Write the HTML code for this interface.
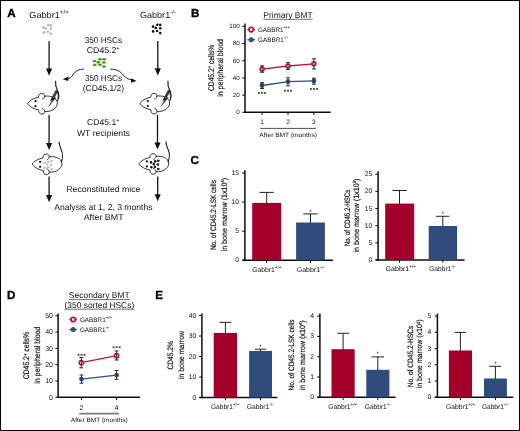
<!DOCTYPE html><html><head><meta charset="utf-8"><style>html,body{margin:0;padding:0;background:#fff;width:520px;height:431px;overflow:hidden;position:relative}text{font-family:"Liberation Sans", sans-serif;text-rendering:geometricPrecision}</style></head><body><svg width="520" height="431" viewBox="0 0 520 431" style="position:absolute;left:0;top:0;will-change:transform">
<g font-family='"Liberation Sans", sans-serif'>
<rect x="0" y="0" width="520" height="431" fill="#fff"/>
<text x="7.2" y="17.4" font-size="11.6" text-anchor="start" font-weight="bold" fill="#000" stroke="#000" stroke-width="0.35">A</text>
<text x="29.3" y="17.5" font-size="8.8" text-anchor="start" font-weight="normal" fill="#111" textLength="39.5" lengthAdjust="spacingAndGlyphs">Gabbr1<tspan font-size="6.00" dy="-3.60">+/+</tspan></text>
<text x="140.0" y="17.5" font-size="8.8" text-anchor="start" font-weight="normal" fill="#111" textLength="36.0" lengthAdjust="spacingAndGlyphs">Gabbr1<tspan font-size="6.00" dy="-3.60">-/-</tspan></text>
<circle cx="43.3" cy="27.3" r="1.3" fill="#b4b4b4" stroke="none" stroke-width="0"/>
<circle cx="48.1" cy="25.2" r="1.3" fill="#b4b4b4" stroke="none" stroke-width="0"/>
<circle cx="50.8" cy="25.4" r="1.3" fill="#b4b4b4" stroke="none" stroke-width="0"/>
<circle cx="45.7" cy="28.6" r="1.3" fill="#b4b4b4" stroke="none" stroke-width="0"/>
<circle cx="50.8" cy="28.6" r="1.3" fill="#b4b4b4" stroke="none" stroke-width="0"/>
<circle cx="43.9" cy="32.4" r="1.3" fill="#b4b4b4" stroke="none" stroke-width="0"/>
<circle cx="47.8" cy="31.7" r="1.3" fill="#b4b4b4" stroke="none" stroke-width="0"/>
<circle cx="50.8" cy="33.7" r="1.3" fill="#b4b4b4" stroke="none" stroke-width="0"/>
<circle cx="153" cy="26.6" r="1.3" fill="#111" stroke="none" stroke-width="0"/>
<circle cx="157.3" cy="24.7" r="1.3" fill="#111" stroke="none" stroke-width="0"/>
<circle cx="160.2" cy="24.9" r="1.3" fill="#111" stroke="none" stroke-width="0"/>
<circle cx="155.7" cy="27.9" r="1.3" fill="#111" stroke="none" stroke-width="0"/>
<circle cx="160.2" cy="28.3" r="1.3" fill="#111" stroke="none" stroke-width="0"/>
<circle cx="153.1" cy="31.4" r="1.3" fill="#111" stroke="none" stroke-width="0"/>
<circle cx="157.1" cy="31" r="1.3" fill="#111" stroke="none" stroke-width="0"/>
<circle cx="160.2" cy="33.1" r="1.3" fill="#111" stroke="none" stroke-width="0"/>
<line x1="49.1" y1="41" x2="49.1" y2="69.6" stroke="#0d0d0d" stroke-width="1.25"/>
<path d="M46.0,68.6 L52.2,68.6 L49.1,75.8 Z" fill="#111"/>
<line x1="157.8" y1="41" x2="157.8" y2="69.2" stroke="#0d0d0d" stroke-width="1.25"/>
<path d="M154.70000000000002,68.2 L160.9,68.2 L157.8,75.4 Z" fill="#111"/>
<g transform="translate(27.8,103.6)">
<path d="M1.0,-1.5 C2.8,-3.6 6.4,-5.5 10.7,-6.3 C10.5,-8.8 12,-10.1 13.8,-10.1 C15.8,-10.1 17.3,-8.8 16.8,-7.4 C22,-8.2 27.5,-6.2 29.2,-2.6 C30.2,0 29.2,3.2 26.5,5.2 C23.5,7.6 20,8.3 16.8,7.8 C17.3,9.5 15.8,10.6 13.8,10.4 C12,10.3 10.5,8.8 10.9,6.3 C6.6,5.6 2.8,3.6 1.0,1.5 C-0.4,0.6 -0.4,-0.6 1.0,-1.5 Z" fill="#fff" stroke="#111" stroke-width="0.85" stroke-linejoin="round"/>
<path d="M16.8,-7.6 C16.6,-5.6 15.6,-4.7 14.3,-4.4 M16.8,7.9 C16.6,5.9 15.6,4.9 14.0,4.6" fill="none" stroke="#111" stroke-width="0.8"/>
<circle cx="7.7" cy="-2.4" r="1.1" fill="#111" stroke="none" stroke-width="0"/>
<circle cx="7.7" cy="2.6" r="1.1" fill="#111" stroke="none" stroke-width="0"/>
<path d="M29.6,-2.5 C31.4,-6 31.2,-10 29.7,-13 C28.2,-16 27.4,-19 27.8,-22.8" fill="none" stroke="#111" stroke-width="1.1"/>
<path d="M30.2,-4.5 C30.6,-8 30.0,-11 28.6,-14" fill="none" stroke="#111" stroke-width="0.6"/>
<path d="M27.9,-13.2 L30.0,-12.0 L26.3,-5.4 L28.2,-6.0 L20.8,3.2 L24.2,-3.6 L22.5,-3.0 Z" fill="#1a1a1a" stroke="#1a1a1a" stroke-width="0.3" stroke-linejoin="round"/>
<path d="M28.5,-11.8 L25.2,-5.2 M25.5,-3.9 L22.6,0.8" fill="none" stroke="#fff" stroke-width="0.35" opacity="0.8"/>
</g>
<g transform="translate(140.1,103.5)">
<path d="M1.0,-1.5 C2.8,-3.6 6.4,-5.5 10.7,-6.3 C10.5,-8.8 12,-10.1 13.8,-10.1 C15.8,-10.1 17.3,-8.8 16.8,-7.4 C22,-8.2 27.5,-6.2 29.2,-2.6 C30.2,0 29.2,3.2 26.5,5.2 C23.5,7.6 20,8.3 16.8,7.8 C17.3,9.5 15.8,10.6 13.8,10.4 C12,10.3 10.5,8.8 10.9,6.3 C6.6,5.6 2.8,3.6 1.0,1.5 C-0.4,0.6 -0.4,-0.6 1.0,-1.5 Z" fill="#fff" stroke="#111" stroke-width="0.85" stroke-linejoin="round"/>
<path d="M16.8,-7.6 C16.6,-5.6 15.6,-4.7 14.3,-4.4 M16.8,7.9 C16.6,5.9 15.6,4.9 14.0,4.6" fill="none" stroke="#111" stroke-width="0.8"/>
<circle cx="7.7" cy="-2.4" r="1.1" fill="#111" stroke="none" stroke-width="0"/>
<circle cx="7.7" cy="2.6" r="1.1" fill="#111" stroke="none" stroke-width="0"/>
<path d="M29.6,-2.5 C31.4,-6 31.2,-10 29.7,-13 C28.2,-16 27.4,-19 27.8,-22.8" fill="none" stroke="#111" stroke-width="1.1"/>
<path d="M30.2,-4.5 C30.6,-8 30.0,-11 28.6,-14" fill="none" stroke="#111" stroke-width="0.6"/>
<path d="M27.9,-13.2 L30.0,-12.0 L26.3,-5.4 L28.2,-6.0 L20.8,3.2 L24.2,-3.6 L22.5,-3.0 Z" fill="#1a1a1a" stroke="#1a1a1a" stroke-width="0.3" stroke-linejoin="round"/>
<path d="M28.5,-11.8 L25.2,-5.2 M25.5,-3.9 L22.6,0.8" fill="none" stroke="#fff" stroke-width="0.35" opacity="0.8"/>
</g>
<line x1="49.1" y1="115" x2="49.1" y2="143.9" stroke="#0d0d0d" stroke-width="1.25"/>
<path d="M46.0,142.9 L52.2,142.9 L49.1,149.9 Z" fill="#111"/>
<line x1="157.5" y1="115" x2="157.5" y2="143.6" stroke="#0d0d0d" stroke-width="1.25"/>
<path d="M154.4,142.6 L160.6,142.6 L157.5,149.6 Z" fill="#111"/>
<g transform="translate(32.4,164.2)">
<path d="M1.0,-1.5 C2.8,-3.6 6.4,-5.5 10.7,-6.3 C10.5,-8.8 12,-10.1 13.8,-10.1 C15.8,-10.1 17.3,-8.8 16.8,-7.4 C22,-8.2 27.5,-6.2 29.2,-2.6 C30.2,0 29.2,3.2 26.5,5.2 C23.5,7.6 20,8.3 16.8,7.8 C17.3,9.5 15.8,10.6 13.8,10.4 C12,10.3 10.5,8.8 10.9,6.3 C6.6,5.6 2.8,3.6 1.0,1.5 C-0.4,0.6 -0.4,-0.6 1.0,-1.5 Z" fill="#fff" stroke="#111" stroke-width="0.85" stroke-linejoin="round"/>
<path d="M16.8,-7.6 C16.6,-5.6 15.6,-4.7 14.3,-4.4 M16.8,7.9 C16.6,5.9 15.6,4.9 14.0,4.6" fill="none" stroke="#111" stroke-width="0.8"/>
<circle cx="7.7" cy="-2.4" r="1.1" fill="#111" stroke="none" stroke-width="0"/>
<circle cx="7.7" cy="2.6" r="1.1" fill="#111" stroke="none" stroke-width="0"/>
<path d="M28.6,-1.6 C30.8,-5.8 30.4,-11.5 28.6,-15 C27.6,-17.5 26.8,-20 26.7,-22.4" fill="none" stroke="#111" stroke-width="1.1"/>
<circle cx="11.8" cy="-1.4" r="1.3" fill="#c2c2c2" stroke="none" stroke-width="0"/>
<circle cx="16" cy="-2.4" r="1.3" fill="#c2c2c2" stroke="none" stroke-width="0"/>
<circle cx="19.1" cy="-3.1" r="1.3" fill="#c2c2c2" stroke="none" stroke-width="0"/>
<circle cx="14.6" cy="0.3" r="1.3" fill="#c2c2c2" stroke="none" stroke-width="0"/>
<circle cx="18.7" cy="0.7" r="1.3" fill="#c2c2c2" stroke="none" stroke-width="0"/>
<circle cx="12.1" cy="3.5" r="1.3" fill="#c2c2c2" stroke="none" stroke-width="0"/>
<circle cx="15.7" cy="3.1" r="1.3" fill="#c2c2c2" stroke="none" stroke-width="0"/>
<circle cx="19.1" cy="5.2" r="1.3" fill="#c2c2c2" stroke="none" stroke-width="0"/>
</g>
<g transform="translate(139.2,163.8)">
<path d="M1.0,-1.5 C2.8,-3.6 6.4,-5.5 10.7,-6.3 C10.5,-8.8 12,-10.1 13.8,-10.1 C15.8,-10.1 17.3,-8.8 16.8,-7.4 C22,-8.2 27.5,-6.2 29.2,-2.6 C30.2,0 29.2,3.2 26.5,5.2 C23.5,7.6 20,8.3 16.8,7.8 C17.3,9.5 15.8,10.6 13.8,10.4 C12,10.3 10.5,8.8 10.9,6.3 C6.6,5.6 2.8,3.6 1.0,1.5 C-0.4,0.6 -0.4,-0.6 1.0,-1.5 Z" fill="#fff" stroke="#111" stroke-width="0.85" stroke-linejoin="round"/>
<path d="M16.8,-7.6 C16.6,-5.6 15.6,-4.7 14.3,-4.4 M16.8,7.9 C16.6,5.9 15.6,4.9 14.0,4.6" fill="none" stroke="#111" stroke-width="0.8"/>
<circle cx="7.7" cy="-2.4" r="1.1" fill="#111" stroke="none" stroke-width="0"/>
<circle cx="7.7" cy="2.6" r="1.1" fill="#111" stroke="none" stroke-width="0"/>
<path d="M28.6,-1.6 C30.8,-5.8 30.4,-11.5 28.6,-15 C27.6,-17.5 26.8,-20 26.7,-22.4" fill="none" stroke="#111" stroke-width="1.1"/>
<circle cx="11.8" cy="-1.4" r="1.3" fill="#111" stroke="none" stroke-width="0"/>
<circle cx="16" cy="-2.4" r="1.3" fill="#111" stroke="none" stroke-width="0"/>
<circle cx="19.1" cy="-3.1" r="1.3" fill="#111" stroke="none" stroke-width="0"/>
<circle cx="14.6" cy="0.3" r="1.3" fill="#111" stroke="none" stroke-width="0"/>
<circle cx="18.7" cy="0.7" r="1.3" fill="#111" stroke="none" stroke-width="0"/>
<circle cx="12.1" cy="3.5" r="1.3" fill="#111" stroke="none" stroke-width="0"/>
<circle cx="15.7" cy="3.1" r="1.3" fill="#111" stroke="none" stroke-width="0"/>
<circle cx="19.1" cy="5.2" r="1.3" fill="#111" stroke="none" stroke-width="0"/>
</g>
<line x1="49.1" y1="176.5" x2="49.1" y2="196" stroke="#0d0d0d" stroke-width="1.25"/>
<path d="M46.0,195 L52.2,195 L49.1,202.2 Z" fill="#111"/>
<line x1="157.7" y1="176.5" x2="157.7" y2="195.3" stroke="#0d0d0d" stroke-width="1.25"/>
<path d="M154.6,194.3 L160.79999999999998,194.3 L157.7,201.3 Z" fill="#111"/>
<text x="103.4" y="42.5" font-size="8.5" text-anchor="middle" font-weight="normal" fill="#111" textLength="37.4" lengthAdjust="spacingAndGlyphs">350 HSCs</text>
<text x="103.2" y="53.0" font-size="8.5" text-anchor="middle" font-weight="normal" fill="#111" textLength="32.8" lengthAdjust="spacingAndGlyphs">CD45.2<tspan font-size="5.40" dy="-3.40">+</tspan></text>
<ellipse cx="94.5" cy="60.9" rx="1.9" ry="1.25" fill="#4a9a1c"/>
<ellipse cx="99.9" cy="59.2" rx="1.9" ry="1.25" fill="#4a9a1c"/>
<ellipse cx="104.2" cy="59.2" rx="1.9" ry="1.25" fill="#4a9a1c"/>
<ellipse cx="98.2" cy="62.2" rx="1.9" ry="1.25" fill="#4a9a1c"/>
<ellipse cx="103.9" cy="62.5" rx="1.9" ry="1.25" fill="#4a9a1c"/>
<ellipse cx="94.8" cy="65.1" rx="1.9" ry="1.25" fill="#4a9a1c"/>
<ellipse cx="99.9" cy="64.7" rx="1.9" ry="1.25" fill="#4a9a1c"/>
<ellipse cx="103.9" cy="66.5" rx="1.9" ry="1.25" fill="#4a9a1c"/>
<text x="103.5" y="80.8" font-size="8.5" text-anchor="middle" font-weight="normal" fill="#111" textLength="37.0" lengthAdjust="spacingAndGlyphs">350 HSCs</text>
<text x="103.4" y="91.4" font-size="8.5" text-anchor="middle" font-weight="normal" fill="#111" textLength="41.2" lengthAdjust="spacingAndGlyphs">(CD45.1/2)</text>
<text x="103.2" y="125.4" font-size="8.5" text-anchor="middle" font-weight="normal" fill="#111" textLength="32.4" lengthAdjust="spacingAndGlyphs">CD45.1<tspan font-size="5.40" dy="-3.40">+</tspan></text>
<text x="103.45" y="135.7" font-size="8.5" text-anchor="middle" font-weight="normal" fill="#111" textLength="53.1" lengthAdjust="spacingAndGlyphs">WT recipients</text>
<text x="103.35" y="191.9" font-size="8.5" text-anchor="middle" font-weight="normal" fill="#111" textLength="74.1" lengthAdjust="spacingAndGlyphs">Reconstituted mice</text>
<text x="103.35" y="209.9" font-size="8.5" text-anchor="middle" font-weight="normal" fill="#111" textLength="98.3" lengthAdjust="spacingAndGlyphs">Analysis at 1, 2, 3 months</text>
<text x="103.65" y="220.1" font-size="8.5" text-anchor="middle" font-weight="normal" fill="#111" textLength="39.9" lengthAdjust="spacingAndGlyphs">After BMT</text>
<path d="M83.8,69.1 C79,69.2 75.5,70.5 73.6,74 C72,77 69.5,78.8 66.5,79.2" fill="none" stroke="#111" stroke-width="0.9"/>
<path d="M62.8,79.3 L68.6,76.4 L68.1,80.9 Z" fill="#111"/>
<path d="M110.2,69.1 C115,69.2 119.5,70.3 122.2,73.8 C124.5,77.2 127.5,79.3 132.5,80.2" fill="none" stroke="#111" stroke-width="0.9"/>
<path d="M136.6,80.9 L131.2,78.3 L131.0,82.8 Z" fill="#111"/>
<text x="191.0" y="17.2" font-size="11.6" text-anchor="start" font-weight="bold" fill="#000" stroke="#000" stroke-width="0.35">B</text>
<text x="288.0" y="17.7" font-size="8.5" text-anchor="middle" font-weight="normal" fill="#111" textLength="49.4" lengthAdjust="spacingAndGlyphs">Primary BMT</text>
<line x1="263.3" y1="19.3" x2="312.7" y2="19.3" stroke="#333" stroke-width="0.7"/>
<line x1="245.0" y1="23.4" x2="245.0" y2="113.0" stroke="#0d0d0d" stroke-width="1.5"/>
<line x1="242.2" y1="112.3" x2="245.0" y2="112.3" stroke="#0d0d0d" stroke-width="1.0"/>
<text x="239.6" y="114.1" font-size="6.2" text-anchor="end" font-weight="normal" fill="#111">0</text>
<line x1="242.2" y1="95.12" x2="245.0" y2="95.12" stroke="#0d0d0d" stroke-width="1.0"/>
<text x="239.6" y="96.92" font-size="6.2" text-anchor="end" font-weight="normal" fill="#111">20</text>
<line x1="242.2" y1="77.94" x2="245.0" y2="77.94" stroke="#0d0d0d" stroke-width="1.0"/>
<text x="239.6" y="79.74" font-size="6.2" text-anchor="end" font-weight="normal" fill="#111">40</text>
<line x1="242.2" y1="60.76" x2="245.0" y2="60.76" stroke="#0d0d0d" stroke-width="1.0"/>
<text x="239.6" y="62.559999999999995" font-size="6.2" text-anchor="end" font-weight="normal" fill="#111">60</text>
<line x1="242.2" y1="43.58" x2="245.0" y2="43.58" stroke="#0d0d0d" stroke-width="1.0"/>
<text x="239.6" y="45.379999999999995" font-size="6.2" text-anchor="end" font-weight="normal" fill="#111">80</text>
<line x1="242.2" y1="26.39999999999999" x2="245.0" y2="26.39999999999999" stroke="#0d0d0d" stroke-width="1.0"/>
<text x="239.6" y="28.199999999999992" font-size="6.2" text-anchor="end" font-weight="normal" fill="#111">100</text>
<line x1="244.4" y1="112.3" x2="330.8" y2="112.3" stroke="#0d0d0d" stroke-width="1.5"/>
<line x1="262.1" y1="112.3" x2="262.1" y2="115.0" stroke="#0d0d0d" stroke-width="1.0"/>
<text x="262.1" y="123.8" font-size="6.5" text-anchor="middle" font-weight="normal" fill="#111">1</text>
<line x1="288.0" y1="112.3" x2="288.0" y2="115.0" stroke="#0d0d0d" stroke-width="1.0"/>
<text x="288.0" y="123.8" font-size="6.5" text-anchor="middle" font-weight="normal" fill="#111">2</text>
<line x1="313.9" y1="112.3" x2="313.9" y2="115.0" stroke="#0d0d0d" stroke-width="1.0"/>
<text x="313.9" y="123.8" font-size="6.5" text-anchor="middle" font-weight="normal" fill="#111">3</text>
<line x1="260.1" y1="128.4" x2="315.8" y2="128.4" stroke="#222" stroke-width="0.8"/>
<text x="288.2" y="137.0" font-size="6.2" text-anchor="middle" font-weight="normal" fill="#111" textLength="57.7" lengthAdjust="spacingAndGlyphs">After BMT (months)</text>
<text transform="translate(213.9,67.9) rotate(-90)" x="0" y="0" font-size="8.2" text-anchor="middle" fill="#111" stroke="#111" stroke-width="0.18" textLength="46.3" lengthAdjust="spacingAndGlyphs">CD45.2<tspan font-size="5.00" dy="-2.80">+</tspan><tspan dy="2.80"> cells%</tspan></text>
<text transform="translate(222.9,67.9) rotate(-90)" x="0" y="0" font-size="8.2" text-anchor="middle" fill="#111" stroke="#111" stroke-width="0.18" textLength="57.7" lengthAdjust="spacingAndGlyphs">in peripheral blood</text>
<polyline points="262.1,69.1 288,66 313.9,63.8" fill="none" stroke="#C4123E" stroke-width="1.3"/>
<polyline points="262.1,85.5 288,81.7 313.9,80.9" fill="none" stroke="#2E4E8C" stroke-width="1.3"/>
<circle cx="262.1" cy="69.1" r="2.0" fill="#fff" stroke="#C4123E" stroke-width="1.6"/>
<circle cx="288" cy="66" r="2.0" fill="#fff" stroke="#C4123E" stroke-width="1.6"/>
<circle cx="313.9" cy="63.8" r="2.0" fill="#fff" stroke="#C4123E" stroke-width="1.6"/>
<circle cx="262.1" cy="85.5" r="2.4" fill="#2E4E8C" stroke="none" stroke-width="0"/>
<circle cx="288" cy="81.7" r="2.4" fill="#2E4E8C" stroke="none" stroke-width="0"/>
<circle cx="313.9" cy="80.9" r="2.4" fill="#2E4E8C" stroke="none" stroke-width="0"/>
<line x1="262.1" y1="65.8" x2="262.1" y2="72.3" stroke="#2a2a2a" stroke-width="1.0"/>
<line x1="260.1" y1="65.8" x2="264.1" y2="65.8" stroke="#2a2a2a" stroke-width="1.0"/>
<line x1="260.1" y1="72.3" x2="264.1" y2="72.3" stroke="#2a2a2a" stroke-width="1.0"/>
<line x1="288" y1="62.6" x2="288" y2="69.4" stroke="#2a2a2a" stroke-width="1.0"/>
<line x1="286.0" y1="62.6" x2="290.0" y2="62.6" stroke="#2a2a2a" stroke-width="1.0"/>
<line x1="286.0" y1="69.4" x2="290.0" y2="69.4" stroke="#2a2a2a" stroke-width="1.0"/>
<line x1="313.9" y1="58.8" x2="313.9" y2="69" stroke="#2a2a2a" stroke-width="1.0"/>
<line x1="311.9" y1="58.8" x2="315.9" y2="58.8" stroke="#2a2a2a" stroke-width="1.0"/>
<line x1="311.9" y1="69" x2="315.9" y2="69" stroke="#2a2a2a" stroke-width="1.0"/>
<line x1="262.1" y1="82.6" x2="262.1" y2="88.5" stroke="#2a2a2a" stroke-width="1.0"/>
<line x1="260.1" y1="82.6" x2="264.1" y2="82.6" stroke="#2a2a2a" stroke-width="1.0"/>
<line x1="260.1" y1="88.5" x2="264.1" y2="88.5" stroke="#2a2a2a" stroke-width="1.0"/>
<line x1="288" y1="77.8" x2="288" y2="85.8" stroke="#2a2a2a" stroke-width="1.0"/>
<line x1="286.0" y1="77.8" x2="290.0" y2="77.8" stroke="#2a2a2a" stroke-width="1.0"/>
<line x1="286.0" y1="85.8" x2="290.0" y2="85.8" stroke="#2a2a2a" stroke-width="1.0"/>
<line x1="313.9" y1="78.2" x2="313.9" y2="84.2" stroke="#2a2a2a" stroke-width="1.0"/>
<line x1="311.9" y1="78.2" x2="315.9" y2="78.2" stroke="#2a2a2a" stroke-width="1.0"/>
<line x1="311.9" y1="84.2" x2="315.9" y2="84.2" stroke="#2a2a2a" stroke-width="1.0"/>
<rect x="258.00" y="92.00" width="1.9" height="1.9" fill="#505050"/>
<rect x="261.00" y="92.00" width="1.9" height="1.9" fill="#505050"/>
<rect x="264.00" y="92.00" width="1.9" height="1.9" fill="#505050"/>
<rect x="284.00" y="89.80" width="1.9" height="1.9" fill="#505050"/>
<rect x="287.00" y="89.80" width="1.9" height="1.9" fill="#505050"/>
<rect x="290.00" y="89.80" width="1.9" height="1.9" fill="#505050"/>
<rect x="310.00" y="88.00" width="1.9" height="1.9" fill="#505050"/>
<rect x="313.00" y="88.00" width="1.9" height="1.9" fill="#505050"/>
<rect x="316.00" y="88.00" width="1.9" height="1.9" fill="#505050"/>
<line x1="247.4" y1="29.6" x2="255.1" y2="29.6" stroke="#C4123E" stroke-width="1.2"/>
<circle cx="251.2" cy="29.6" r="2.2" fill="#fff" stroke="#C4123E" stroke-width="1.8"/>
<text x="258.0" y="31.8" font-size="6.6" text-anchor="start" font-weight="normal" fill="#111" textLength="31.7" lengthAdjust="spacingAndGlyphs">GABBR1<tspan font-size="4.60" dy="-3.00">+/+</tspan></text>
<line x1="247.4" y1="39.7" x2="255.1" y2="39.7" stroke="#2E4E8C" stroke-width="1.2"/>
<circle cx="251.2" cy="39.7" r="2.5" fill="#2E4E8C" stroke="none" stroke-width="0"/>
<text x="258.0" y="41.8" font-size="6.6" text-anchor="start" font-weight="normal" fill="#111" textLength="30.0" lengthAdjust="spacingAndGlyphs">GABBR1<tspan font-size="4.60" dy="-3.00">-/-</tspan></text>
<text x="190.6" y="163.6" font-size="11.6" text-anchor="start" font-weight="bold" fill="#000" stroke="#000" stroke-width="0.35">C</text>
<line x1="244.9" y1="170.3" x2="244.9" y2="261.0" stroke="#0d0d0d" stroke-width="1.5"/>
<line x1="242.1" y1="260.3" x2="244.9" y2="260.3" stroke="#0d0d0d" stroke-width="1.0"/>
<text x="239.0" y="262.3" font-size="6.8" text-anchor="end" font-weight="normal" fill="#111">0</text>
<line x1="242.1" y1="231.20000000000002" x2="244.9" y2="231.20000000000002" stroke="#0d0d0d" stroke-width="1.0"/>
<text x="239.0" y="233.20000000000002" font-size="6.8" text-anchor="end" font-weight="normal" fill="#111">5</text>
<line x1="242.1" y1="202.10000000000002" x2="244.9" y2="202.10000000000002" stroke="#0d0d0d" stroke-width="1.0"/>
<text x="239.0" y="204.10000000000002" font-size="6.8" text-anchor="end" font-weight="normal" fill="#111">10</text>
<line x1="242.1" y1="173.0" x2="244.9" y2="173.0" stroke="#0d0d0d" stroke-width="1.0"/>
<text x="239.0" y="175.0" font-size="6.8" text-anchor="end" font-weight="normal" fill="#111">15</text>
<line x1="242.3" y1="260.3" x2="332.9" y2="260.3" stroke="#0d0d0d" stroke-width="1.5"/>
<rect x="252.2" y="202.9" width="29.0" height="57.400000000000006" fill="#A3002A"/>
<line x1="266.7" y1="192.4" x2="266.7" y2="203.4" stroke="#222" stroke-width="1.0"/>
<line x1="259.5" y1="192.4" x2="273.7" y2="192.4" stroke="#222" stroke-width="1.0"/>
<line x1="266.7" y1="260.3" x2="266.7" y2="263.0" stroke="#0d0d0d" stroke-width="1.0"/>
<rect x="296.1" y="222.5" width="28.799999999999955" height="37.80000000000001" fill="#304C7D"/>
<line x1="310.5" y1="213.9" x2="310.5" y2="223.0" stroke="#222" stroke-width="1.0"/>
<line x1="303.2" y1="213.9" x2="317.7" y2="213.9" stroke="#222" stroke-width="1.0"/>
<line x1="310.5" y1="260.3" x2="310.5" y2="263.0" stroke="#0d0d0d" stroke-width="1.0"/>
<text x="310.5" y="213.60000000000002" font-size="6.5" text-anchor="middle" font-weight="normal" fill="#111">*</text>
<text x="252.2" y="271.7" font-size="6.8" text-anchor="start" font-weight="normal" fill="#111" textLength="29.2" lengthAdjust="spacingAndGlyphs">Gabbr1<tspan font-size="4.60" dy="-3.00">+/+</tspan></text>
<text x="296.7" y="271.7" font-size="6.8" text-anchor="start" font-weight="normal" fill="#111" textLength="27.8" lengthAdjust="spacingAndGlyphs">Gabbr1<tspan font-size="4.60" dy="-3.00">-/-</tspan></text>
<text transform="translate(216.4,215.0) rotate(-90)" x="0" y="0" font-size="7.9" text-anchor="middle" fill="#111" stroke="#111" stroke-width="0.18" textLength="70.0" lengthAdjust="spacingAndGlyphs">No. of CD45.2-LSK cells</text>
<text transform="translate(227.1,214.6) rotate(-90)" x="0" y="0" font-size="7.9" text-anchor="middle" fill="#111" stroke="#111" stroke-width="0.18" textLength="73.7" lengthAdjust="spacingAndGlyphs">in bone marrow (1x10<tspan font-size="4.60" dy="-2.80">4</tspan><tspan dy="2.80">)</tspan></text>
<line x1="378.1" y1="171.3" x2="378.1" y2="260.7" stroke="#0d0d0d" stroke-width="1.5"/>
<line x1="375.3" y1="260.0" x2="378.1" y2="260.0" stroke="#0d0d0d" stroke-width="1.0"/>
<text x="372.4" y="262.0" font-size="6.8" text-anchor="end" font-weight="normal" fill="#111">0</text>
<line x1="375.3" y1="242.85" x2="378.1" y2="242.85" stroke="#0d0d0d" stroke-width="1.0"/>
<text x="372.4" y="244.85" font-size="6.8" text-anchor="end" font-weight="normal" fill="#111">5</text>
<line x1="375.3" y1="225.7" x2="378.1" y2="225.7" stroke="#0d0d0d" stroke-width="1.0"/>
<text x="372.4" y="227.7" font-size="6.8" text-anchor="end" font-weight="normal" fill="#111">10</text>
<line x1="375.3" y1="208.55" x2="378.1" y2="208.55" stroke="#0d0d0d" stroke-width="1.0"/>
<text x="372.4" y="210.55" font-size="6.8" text-anchor="end" font-weight="normal" fill="#111">15</text>
<line x1="375.3" y1="191.39999999999998" x2="378.1" y2="191.39999999999998" stroke="#0d0d0d" stroke-width="1.0"/>
<text x="372.4" y="193.39999999999998" font-size="6.8" text-anchor="end" font-weight="normal" fill="#111">20</text>
<line x1="375.3" y1="174.25" x2="378.1" y2="174.25" stroke="#0d0d0d" stroke-width="1.0"/>
<text x="372.4" y="176.25" font-size="6.8" text-anchor="end" font-weight="normal" fill="#111">25</text>
<line x1="375.5" y1="260.0" x2="464.6" y2="260.0" stroke="#0d0d0d" stroke-width="1.5"/>
<rect x="385.2" y="203.6" width="29.0" height="56.400000000000006" fill="#A3002A"/>
<line x1="399.5" y1="190.5" x2="399.5" y2="204.1" stroke="#222" stroke-width="1.0"/>
<line x1="392.5" y1="190.5" x2="406.8" y2="190.5" stroke="#222" stroke-width="1.0"/>
<line x1="399.5" y1="260.0" x2="399.5" y2="262.7" stroke="#0d0d0d" stroke-width="1.0"/>
<rect x="428.7" y="226.0" width="28.400000000000034" height="34.0" fill="#304C7D"/>
<line x1="442.8" y1="216.3" x2="442.8" y2="226.5" stroke="#222" stroke-width="1.0"/>
<line x1="436.0" y1="216.3" x2="449.4" y2="216.3" stroke="#222" stroke-width="1.0"/>
<line x1="442.8" y1="260.0" x2="442.8" y2="262.7" stroke="#0d0d0d" stroke-width="1.0"/>
<text x="442.8" y="215.8" font-size="6.5" text-anchor="middle" font-weight="normal" fill="#111">*</text>
<text x="385.4" y="271.2" font-size="6.8" text-anchor="start" font-weight="normal" fill="#111" textLength="30.8" lengthAdjust="spacingAndGlyphs">Gabbr1<tspan font-size="4.60" dy="-3.00">+/+</tspan></text>
<text x="429.2" y="271.2" font-size="6.8" text-anchor="start" font-weight="normal" fill="#111" textLength="26.4" lengthAdjust="spacingAndGlyphs">Gabbr1<tspan font-size="4.60" dy="-3.00">-/-</tspan></text>
<text transform="translate(349.5,218.0) rotate(-90)" x="0" y="0" font-size="7.9" text-anchor="middle" fill="#111" stroke="#111" stroke-width="0.18" textLength="56.4" lengthAdjust="spacingAndGlyphs">No. of CD45.2-HSCs</text>
<text transform="translate(358.9,215.6) rotate(-90)" x="0" y="0" font-size="7.9" text-anchor="middle" fill="#111" stroke="#111" stroke-width="0.18" textLength="74.0" lengthAdjust="spacingAndGlyphs">in bone marrow (1x10<tspan font-size="4.60" dy="-2.80">3</tspan><tspan dy="2.80">)</tspan></text>
<text x="7.0" y="298.6" font-size="11.6" text-anchor="start" font-weight="bold" fill="#000" stroke="#000" stroke-width="0.35">D</text>
<text x="99.25" y="298.0" font-size="8.5" text-anchor="middle" font-weight="normal" fill="#111" textLength="60.9" lengthAdjust="spacingAndGlyphs">Secondary BMT</text>
<line x1="68.8" y1="299.6" x2="129.7" y2="299.6" stroke="#333" stroke-width="0.7"/>
<text x="99.35" y="307.5" font-size="8.5" text-anchor="middle" font-weight="normal" fill="#111" textLength="69.7" lengthAdjust="spacingAndGlyphs">(350 sorted HSCs)</text>
<line x1="64.5" y1="309.2" x2="134.2" y2="309.2" stroke="#333" stroke-width="0.7"/>
<line x1="58.1" y1="313.5" x2="58.1" y2="398.0" stroke="#0d0d0d" stroke-width="1.5"/>
<line x1="55.300000000000004" y1="397.3" x2="58.1" y2="397.3" stroke="#0d0d0d" stroke-width="1.0"/>
<text x="53.0" y="399.5" font-size="7.0" text-anchor="end" font-weight="normal" fill="#111">0</text>
<line x1="55.300000000000004" y1="381.0" x2="58.1" y2="381.0" stroke="#0d0d0d" stroke-width="1.0"/>
<text x="53.0" y="383.2" font-size="7.0" text-anchor="end" font-weight="normal" fill="#111">10</text>
<line x1="55.300000000000004" y1="364.70000000000005" x2="58.1" y2="364.70000000000005" stroke="#0d0d0d" stroke-width="1.0"/>
<text x="53.0" y="366.90000000000003" font-size="7.0" text-anchor="end" font-weight="normal" fill="#111">20</text>
<line x1="55.300000000000004" y1="348.40000000000003" x2="58.1" y2="348.40000000000003" stroke="#0d0d0d" stroke-width="1.0"/>
<text x="53.0" y="350.6" font-size="7.0" text-anchor="end" font-weight="normal" fill="#111">30</text>
<line x1="55.300000000000004" y1="332.1" x2="58.1" y2="332.1" stroke="#0d0d0d" stroke-width="1.0"/>
<text x="53.0" y="334.3" font-size="7.0" text-anchor="end" font-weight="normal" fill="#111">40</text>
<line x1="55.300000000000004" y1="315.8" x2="58.1" y2="315.8" stroke="#0d0d0d" stroke-width="1.0"/>
<text x="53.0" y="318.0" font-size="7.0" text-anchor="end" font-weight="normal" fill="#111">50</text>
<line x1="57.5" y1="397.3" x2="140.0" y2="397.3" stroke="#0d0d0d" stroke-width="1.5"/>
<line x1="81.4" y1="397.3" x2="81.4" y2="400.0" stroke="#0d0d0d" stroke-width="1.0"/>
<text x="81.4" y="409.6" font-size="6.8" text-anchor="middle" font-weight="normal" fill="#111">2</text>
<line x1="116.6" y1="397.3" x2="116.6" y2="400.0" stroke="#0d0d0d" stroke-width="1.0"/>
<text x="116.6" y="409.6" font-size="6.8" text-anchor="middle" font-weight="normal" fill="#111">4</text>
<line x1="79.2" y1="413.6" x2="118.9" y2="413.6" stroke="#7a7a7a" stroke-width="1.6"/>
<text x="99.25" y="422.4" font-size="6.2" text-anchor="middle" font-weight="normal" fill="#111" textLength="56.9" lengthAdjust="spacingAndGlyphs">After BMT (months)</text>
<text transform="translate(29.3,355.6) rotate(-90)" x="0" y="0" font-size="8.2" text-anchor="middle" fill="#111" stroke="#111" stroke-width="0.18" textLength="47.5" lengthAdjust="spacingAndGlyphs">CD45.2<tspan font-size="5.00" dy="-2.80">+</tspan><tspan dy="2.80"> cells%</tspan></text>
<text transform="translate(39.6,355.3) rotate(-90)" x="0" y="0" font-size="8.2" text-anchor="middle" fill="#111" stroke="#111" stroke-width="0.18" textLength="57.0" lengthAdjust="spacingAndGlyphs">in peripheral blood</text>
<polyline points="81.3,362.7 116.6,355.7" fill="none" stroke="#C4123E" stroke-width="1.3"/>
<polyline points="81.5,379.1 116.6,375.1" fill="none" stroke="#2E4E8C" stroke-width="1.3"/>
<circle cx="81.3" cy="362.7" r="2.1" fill="#fff" stroke="#C4123E" stroke-width="1.6"/>
<circle cx="116.6" cy="355.7" r="2.1" fill="#fff" stroke="#C4123E" stroke-width="1.6"/>
<circle cx="81.5" cy="379.1" r="2.4" fill="#2E4E8C" stroke="none" stroke-width="0"/>
<circle cx="116.6" cy="375.1" r="2.4" fill="#2E4E8C" stroke="none" stroke-width="0"/>
<line x1="81.3" y1="357.4" x2="81.3" y2="367.8" stroke="#2a2a2a" stroke-width="1.0"/>
<line x1="79.3" y1="357.4" x2="83.3" y2="357.4" stroke="#2a2a2a" stroke-width="1.0"/>
<line x1="79.3" y1="367.8" x2="83.3" y2="367.8" stroke="#2a2a2a" stroke-width="1.0"/>
<line x1="116.6" y1="350.9" x2="116.6" y2="360.0" stroke="#2a2a2a" stroke-width="1.0"/>
<line x1="114.6" y1="350.9" x2="118.6" y2="350.9" stroke="#2a2a2a" stroke-width="1.0"/>
<line x1="114.6" y1="360.0" x2="118.6" y2="360.0" stroke="#2a2a2a" stroke-width="1.0"/>
<line x1="81.5" y1="375.0" x2="81.5" y2="383.2" stroke="#2a2a2a" stroke-width="1.0"/>
<line x1="79.5" y1="375.0" x2="83.5" y2="375.0" stroke="#2a2a2a" stroke-width="1.0"/>
<line x1="79.5" y1="383.2" x2="83.5" y2="383.2" stroke="#2a2a2a" stroke-width="1.0"/>
<line x1="116.6" y1="370.4" x2="116.6" y2="379.4" stroke="#2a2a2a" stroke-width="1.0"/>
<line x1="114.6" y1="370.4" x2="118.6" y2="370.4" stroke="#2a2a2a" stroke-width="1.0"/>
<line x1="114.6" y1="379.4" x2="118.6" y2="379.4" stroke="#2a2a2a" stroke-width="1.0"/>
<rect x="77.60" y="353.80" width="1.9" height="1.9" fill="#505050"/>
<rect x="80.60" y="353.80" width="1.9" height="1.9" fill="#505050"/>
<rect x="83.60" y="353.80" width="1.9" height="1.9" fill="#505050"/>
<rect x="112.70" y="346.30" width="1.9" height="1.9" fill="#505050"/>
<rect x="115.70" y="346.30" width="1.9" height="1.9" fill="#505050"/>
<rect x="118.70" y="346.30" width="1.9" height="1.9" fill="#505050"/>
<line x1="69.3" y1="319.5" x2="77.0" y2="319.5" stroke="#C4123E" stroke-width="1.2"/>
<circle cx="73.2" cy="319.5" r="2.2" fill="#fff" stroke="#C4123E" stroke-width="1.8"/>
<text x="79.9" y="321.8" font-size="6.6" text-anchor="start" font-weight="normal" fill="#111" textLength="32.2" lengthAdjust="spacingAndGlyphs">GABBR1<tspan font-size="4.60" dy="-3.00">+/+</tspan></text>
<line x1="69.3" y1="329.6" x2="77.0" y2="329.6" stroke="#2E4E8C" stroke-width="1.2"/>
<circle cx="73.2" cy="329.6" r="2.5" fill="#2E4E8C" stroke="none" stroke-width="0"/>
<text x="79.9" y="331.9" font-size="6.6" text-anchor="start" font-weight="normal" fill="#111" textLength="29.8" lengthAdjust="spacingAndGlyphs">GABBR1<tspan font-size="4.60" dy="-3.00">-/-</tspan></text>
<text x="155.3" y="298.8" font-size="11.6" text-anchor="start" font-weight="bold" fill="#000" stroke="#000" stroke-width="0.35">E</text>
<line x1="201.9" y1="313.4" x2="201.9" y2="398.2" stroke="#0d0d0d" stroke-width="1.5"/>
<line x1="199.1" y1="397.5" x2="201.9" y2="397.5" stroke="#0d0d0d" stroke-width="1.0"/>
<text x="196.2" y="399.5" font-size="6.8" text-anchor="end" font-weight="normal" fill="#111">0</text>
<line x1="199.1" y1="377.0" x2="201.9" y2="377.0" stroke="#0d0d0d" stroke-width="1.0"/>
<text x="196.2" y="379.0" font-size="6.8" text-anchor="end" font-weight="normal" fill="#111">10</text>
<line x1="199.1" y1="356.5" x2="201.9" y2="356.5" stroke="#0d0d0d" stroke-width="1.0"/>
<text x="196.2" y="358.5" font-size="6.8" text-anchor="end" font-weight="normal" fill="#111">20</text>
<line x1="199.1" y1="336.0" x2="201.9" y2="336.0" stroke="#0d0d0d" stroke-width="1.0"/>
<text x="196.2" y="338.0" font-size="6.8" text-anchor="end" font-weight="normal" fill="#111">30</text>
<line x1="199.1" y1="315.5" x2="201.9" y2="315.5" stroke="#0d0d0d" stroke-width="1.0"/>
<text x="196.2" y="317.5" font-size="6.8" text-anchor="end" font-weight="normal" fill="#111">40</text>
<line x1="199.3" y1="397.5" x2="277.3" y2="397.5" stroke="#0d0d0d" stroke-width="1.5"/>
<rect x="213.7" y="332.9" width="23.350000000000023" height="64.60000000000002" fill="#A3002A"/>
<line x1="225.4" y1="322.4" x2="225.4" y2="333.4" stroke="#222" stroke-width="1.0"/>
<line x1="219.7" y1="322.4" x2="231.3" y2="322.4" stroke="#222" stroke-width="1.0"/>
<line x1="225.4" y1="397.5" x2="225.4" y2="400.2" stroke="#0d0d0d" stroke-width="1.0"/>
<rect x="249.1" y="350.9" width="22.900000000000006" height="46.60000000000002" fill="#304C7D"/>
<line x1="260.5" y1="349.2" x2="260.5" y2="351.4" stroke="#222" stroke-width="1.0"/>
<line x1="254.7" y1="349.2" x2="266.2" y2="349.2" stroke="#222" stroke-width="1.0"/>
<line x1="260.5" y1="397.5" x2="260.5" y2="400.2" stroke="#0d0d0d" stroke-width="1.0"/>
<text x="260.5" y="348.5" font-size="6.5" text-anchor="middle" font-weight="normal" fill="#111">*</text>
<text x="210.9" y="409.3" font-size="6.8" text-anchor="start" font-weight="normal" fill="#111" textLength="28.6" lengthAdjust="spacingAndGlyphs">Gabbr1<tspan font-size="4.60" dy="-3.00">+/+</tspan></text>
<text x="246.8" y="409.3" font-size="6.8" text-anchor="start" font-weight="normal" fill="#111" textLength="26.7" lengthAdjust="spacingAndGlyphs">Gabbr1<tspan font-size="4.60" dy="-3.00">-/-</tspan></text>
<text transform="translate(173.4,355.3) rotate(-90)" x="0" y="0" font-size="7.9" text-anchor="middle" fill="#111" stroke="#111" stroke-width="0.18" textLength="28.6" lengthAdjust="spacingAndGlyphs">CD45.2%</text>
<text transform="translate(183.6,355.05) rotate(-90)" x="0" y="0" font-size="7.9" text-anchor="middle" fill="#111" stroke="#111" stroke-width="0.18" textLength="48.5" lengthAdjust="spacingAndGlyphs">in bone marrow</text>
<line x1="319.9" y1="313.6" x2="319.9" y2="398.0" stroke="#0d0d0d" stroke-width="1.5"/>
<line x1="317.09999999999997" y1="397.3" x2="319.9" y2="397.3" stroke="#0d0d0d" stroke-width="1.0"/>
<text x="314.0" y="399.3" font-size="6.8" text-anchor="end" font-weight="normal" fill="#111">0</text>
<line x1="317.09999999999997" y1="377.0" x2="319.9" y2="377.0" stroke="#0d0d0d" stroke-width="1.0"/>
<text x="314.0" y="379.0" font-size="6.8" text-anchor="end" font-weight="normal" fill="#111">1</text>
<line x1="317.09999999999997" y1="356.7" x2="319.9" y2="356.7" stroke="#0d0d0d" stroke-width="1.0"/>
<text x="314.0" y="358.7" font-size="6.8" text-anchor="end" font-weight="normal" fill="#111">2</text>
<line x1="317.09999999999997" y1="336.4" x2="319.9" y2="336.4" stroke="#0d0d0d" stroke-width="1.0"/>
<text x="314.0" y="338.4" font-size="6.8" text-anchor="end" font-weight="normal" fill="#111">3</text>
<line x1="317.09999999999997" y1="316.1" x2="319.9" y2="316.1" stroke="#0d0d0d" stroke-width="1.0"/>
<text x="314.0" y="318.1" font-size="6.8" text-anchor="end" font-weight="normal" fill="#111">4</text>
<line x1="317.29999999999995" y1="397.3" x2="395.6" y2="397.3" stroke="#0d0d0d" stroke-width="1.5"/>
<rect x="331.5" y="349.2" width="23.19999999999999" height="48.10000000000002" fill="#A3002A"/>
<line x1="343.1" y1="333.3" x2="343.1" y2="349.7" stroke="#222" stroke-width="1.0"/>
<line x1="337.3" y1="333.3" x2="349.0" y2="333.3" stroke="#222" stroke-width="1.0"/>
<line x1="343.1" y1="397.3" x2="343.1" y2="400.0" stroke="#0d0d0d" stroke-width="1.0"/>
<rect x="366.3" y="369.8" width="23.099999999999966" height="27.5" fill="#304C7D"/>
<line x1="377.8" y1="356.9" x2="377.8" y2="370.3" stroke="#222" stroke-width="1.0"/>
<line x1="371.5" y1="356.9" x2="384.0" y2="356.9" stroke="#222" stroke-width="1.0"/>
<line x1="377.8" y1="397.3" x2="377.8" y2="400.0" stroke="#0d0d0d" stroke-width="1.0"/>
<text x="377.8" y="356.3" font-size="6.5" text-anchor="middle" font-weight="normal" fill="#111">*</text>
<text x="328.3" y="409.2" font-size="6.8" text-anchor="start" font-weight="normal" fill="#111" textLength="28.8" lengthAdjust="spacingAndGlyphs">Gabbr1<tspan font-size="4.60" dy="-3.00">+/+</tspan></text>
<text x="364.8" y="409.2" font-size="6.8" text-anchor="start" font-weight="normal" fill="#111" textLength="26.0" lengthAdjust="spacingAndGlyphs">Gabbr1<tspan font-size="4.60" dy="-3.00">-/-</tspan></text>
<text transform="translate(293.9,354.9) rotate(-90)" x="0" y="0" font-size="7.8" text-anchor="middle" fill="#111" stroke="#111" stroke-width="0.18" textLength="71.0" lengthAdjust="spacingAndGlyphs">No. of CD45.2-LSK cells</text>
<text transform="translate(304.8,355.4) rotate(-90)" x="0" y="0" font-size="7.8" text-anchor="middle" fill="#111" stroke="#111" stroke-width="0.18" textLength="70.0" lengthAdjust="spacingAndGlyphs">in bone marrow (x10<tspan font-size="4.50" dy="-2.80">4</tspan><tspan dy="2.80">)</tspan></text>
<line x1="437.4" y1="313.6" x2="437.4" y2="398.0" stroke="#0d0d0d" stroke-width="1.5"/>
<line x1="434.59999999999997" y1="397.3" x2="437.4" y2="397.3" stroke="#0d0d0d" stroke-width="1.0"/>
<text x="431.4" y="399.3" font-size="6.8" text-anchor="end" font-weight="normal" fill="#111">0</text>
<line x1="434.59999999999997" y1="381.05" x2="437.4" y2="381.05" stroke="#0d0d0d" stroke-width="1.0"/>
<text x="431.4" y="383.05" font-size="6.8" text-anchor="end" font-weight="normal" fill="#111">1</text>
<line x1="434.59999999999997" y1="364.8" x2="437.4" y2="364.8" stroke="#0d0d0d" stroke-width="1.0"/>
<text x="431.4" y="366.8" font-size="6.8" text-anchor="end" font-weight="normal" fill="#111">2</text>
<line x1="434.59999999999997" y1="348.55" x2="437.4" y2="348.55" stroke="#0d0d0d" stroke-width="1.0"/>
<text x="431.4" y="350.55" font-size="6.8" text-anchor="end" font-weight="normal" fill="#111">3</text>
<line x1="434.59999999999997" y1="332.3" x2="437.4" y2="332.3" stroke="#0d0d0d" stroke-width="1.0"/>
<text x="431.4" y="334.3" font-size="6.8" text-anchor="end" font-weight="normal" fill="#111">4</text>
<line x1="434.59999999999997" y1="316.05" x2="437.4" y2="316.05" stroke="#0d0d0d" stroke-width="1.0"/>
<text x="431.4" y="318.05" font-size="6.8" text-anchor="end" font-weight="normal" fill="#111">5</text>
<line x1="434.79999999999995" y1="397.3" x2="513.3" y2="397.3" stroke="#0d0d0d" stroke-width="1.5"/>
<rect x="448.9" y="350.5" width="23.100000000000023" height="46.80000000000001" fill="#A3002A"/>
<line x1="460.4" y1="332.4" x2="460.4" y2="351.0" stroke="#222" stroke-width="1.0"/>
<line x1="454.8" y1="332.4" x2="466.0" y2="332.4" stroke="#222" stroke-width="1.0"/>
<line x1="460.4" y1="397.3" x2="460.4" y2="400.0" stroke="#0d0d0d" stroke-width="1.0"/>
<rect x="484.0" y="378.5" width="22.899999999999977" height="18.80000000000001" fill="#304C7D"/>
<line x1="495.4" y1="366.3" x2="495.4" y2="379.0" stroke="#222" stroke-width="1.0"/>
<line x1="489.2" y1="366.3" x2="501.2" y2="366.3" stroke="#222" stroke-width="1.0"/>
<line x1="495.4" y1="397.3" x2="495.4" y2="400.0" stroke="#0d0d0d" stroke-width="1.0"/>
<text x="495.4" y="365.5" font-size="6.5" text-anchor="middle" font-weight="normal" fill="#111">*</text>
<text x="446.0" y="409.2" font-size="6.8" text-anchor="start" font-weight="normal" fill="#111" textLength="29.2" lengthAdjust="spacingAndGlyphs">Gabbr1<tspan font-size="4.60" dy="-3.00">+/+</tspan></text>
<text x="481.9" y="409.2" font-size="6.8" text-anchor="start" font-weight="normal" fill="#111" textLength="26.2" lengthAdjust="spacingAndGlyphs">Gabbr1<tspan font-size="4.60" dy="-3.00">-/-</tspan></text>
<text transform="translate(412.8,356.5) rotate(-90)" x="0" y="0" font-size="7.8" text-anchor="middle" fill="#111" stroke="#111" stroke-width="0.18" textLength="61.5" lengthAdjust="spacingAndGlyphs">No. of CD45.2-HSCs</text>
<text transform="translate(422.3,353.9) rotate(-90)" x="0" y="0" font-size="7.8" text-anchor="middle" fill="#111" stroke="#111" stroke-width="0.18" textLength="68.9" lengthAdjust="spacingAndGlyphs">in bone marrow (x10<tspan font-size="4.50" dy="-2.80">3</tspan><tspan dy="2.80">)</tspan></text>
<rect x="0.5" y="0.5" width="519" height="430" fill="none" stroke="#000" stroke-width="1"/>
</g></svg></body></html>
